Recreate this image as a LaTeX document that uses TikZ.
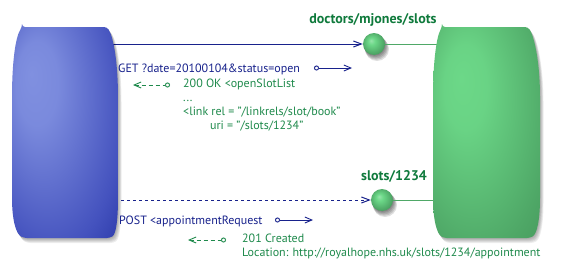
\documentclass[tikz,border=0pt]{standalone}
\usepackage{fontspec}
\setmainfont{PT Sans}
\usetikzlibrary{arrows.meta,positioning}

\definecolor{reqblue}{HTML}{18228C}
\definecolor{respgreen}{HTML}{1F8A4C}
\definecolor{labelgreen}{HTML}{0F7A3C}
\definecolor{clientlight}{HTML}{8090E0}
\definecolor{clientmid}{HTML}{4452BE}
\definecolor{clientdark}{HTML}{0A188E}
\definecolor{serverlight}{HTML}{6CD888}
\definecolor{servermid}{HTML}{4FA867}
\definecolor{serverdark}{HTML}{357E4A}

\pgfdeclareradialshading{clientshade}{\pgfpoint{-16bp}{14bp}}{%
  color(0bp)=(clientlight); color(10bp)=(clientlight!90!clientmid);
  color(34bp)=(clientmid); color(46bp)=(clientmid!45!clientdark);
  color(58bp)=(clientdark)}
\pgfdeclareradialshading{servershade}{\pgfpoint{-12bp}{13bp}}{%
  color(0bp)=(serverlight); color(10bp)=(serverlight!90!servermid);
  color(34bp)=(servermid); color(46bp)=(servermid!55!serverdark);
  color(58bp)=(serverdark)}
\pgfdeclareradialshading{slotball}{\pgfpoint{-7bp}{8bp}}{%
  color(0bp)=(serverlight!70!white); color(8bp)=(serverlight);
  color(24bp)=(servermid); color(40bp)=(serverdark)}

% outlines of the two tiers
\newcommand\clientoutline{%
  (22,27) -- (107,27) .. controls (114,38) and (118,65) .. (118,100)
  -- (118,195) .. controls (118,220) and (116,234) .. (110,238)
  -- (24,238) .. controls (16,234) and (12,220) .. (12,195)
  -- (12,100) .. controls (12,65) and (15,38) .. (22,27) -- cycle}
\newcommand\serveroutline{%
  (442,27) -- (528,27) .. controls (535,38) and (540,65) .. (540,100)
  -- (540,195) .. controls (540,220) and (537,234) .. (530,238)
  -- (444,238) .. controls (437,234) and (433,220) .. (433,195)
  -- (433,100) .. controls (433,65) and (436,38) .. (442,27) -- cycle}

\tikzset{
  msg/.style={font=\fontsize{12}{14}\selectfont, inner sep=0pt, align=left},
  req/.style={msg, text=reqblue, anchor=base west},
  resp/.style={msg, text=respgreen, anchor=north west},
  reslabel/.style={font=\bfseries\fontsize{14}{16}\selectfont, text=labelgreen, inner sep=0pt},
  resource/.style={circle, minimum size=22pt, inner sep=0pt, shade, shading=slotball},
  soft shadow/.style={fill=black, opacity=0.07},
  tier/.style={rounded corners=3pt},
  call/.style={reqblue, line width=1pt, -{Straight Barb[length=8pt,width=6pt]}},
  link/.style={servermid, line width=1pt},
  send/.style={reqblue, line width=0.9pt,
    {Circle[open,length=5pt,width=5pt]}-{Straight Barb[length=7pt,width=6pt]}},
  reply/.style={respgreen, line width=0.9pt, dash pattern=on 4pt off 3pt,
    {Straight Barb[length=7pt,width=6pt]}-{Circle[open,length=5pt,width=5pt]}}
}

\begin{document}
\begin{tikzpicture}[x=1pt, y=-1pt]
  \useasboundingbox[fill=white] (0,0) rectangle (563,268);

  % where the connectors meet the two tiers
  \coordinate (client-get) at (112,44);
  \coordinate (client-post) at (115,200);
  \coordinate (server-get) at (442,44);
  \coordinate (server-post) at (440,200);

  % soft shadows under the resources
  \foreach \s in {1,2,3,4,5}
    \fill[soft shadow, opacity=0.12] (374+\s*0.6,44+\s) circle (11+\s*0.3-0.5)
                       (382+\s*0.6,200+\s) circle (11+\s*0.3-0.5);

  % resources
  \node[resource] (doctorSlots) at (374,44) {};
  \node[resource] (slotBook) at (382,200) {};
  \node[reslabel] at (373,20) {doctors/mjones/slots};
  \node[reslabel] at (394,176) {slots/1234};

  \draw[call] (client-get) -- (doctorSlots);
  \draw[call, dashed] (client-post) -- (slotBook);
  \draw[link] (doctorSlots) -- (server-get);
  \draw[link] (slotBook) -- (server-post);

  % client and server, with their shadows
  \foreach \s in {1,2,3,4,5}
    \fill[soft shadow, tier, shift={(\s*0.7,\s)}] \clientoutline \serveroutline;
  \shade[tier, shading=clientshade] \clientoutline;
  \shade[tier, shading=servershade] \serveroutline;

  % GET exchange
  \node[req] (getReq) at (118,72) {GET ?date=20100104\&status=open};
  \coordinate (get-from) at (314,68);
  \coordinate (get-to) at (352,68);
  \draw[send] (get-from) -- (get-to);
  \coordinate (ok-from) at (170,85);
  \coordinate (ok-to) at (133,85);
  \draw[reply] (ok-to) -- (ok-from);
  \node[resp] (okResp) at (183,79) {200 OK <openSlotList\\
    ...\\
    <link rel = "/linkrels/slot/book"\\
    \hspace*{27pt}uri = "/slots/1234"};

  % POST exchange
  \node[req] (postReq) at (119,224) {POST <appointmentRequest};
  \coordinate (post-from) at (275,220);
  \coordinate (post-to) at (313,220);
  \draw[send] (post-from) -- (post-to);
  \coordinate (created-from) at (226,240);
  \coordinate (created-to) at (188,240);
  \draw[reply] (created-to) -- (created-from);
  \node[resp] (createdResp) at (242,234) {201 Created\\
    Location: http://royalhope.nhs.uk/slots/1234/appointment};
\end{tikzpicture}
\end{document}
